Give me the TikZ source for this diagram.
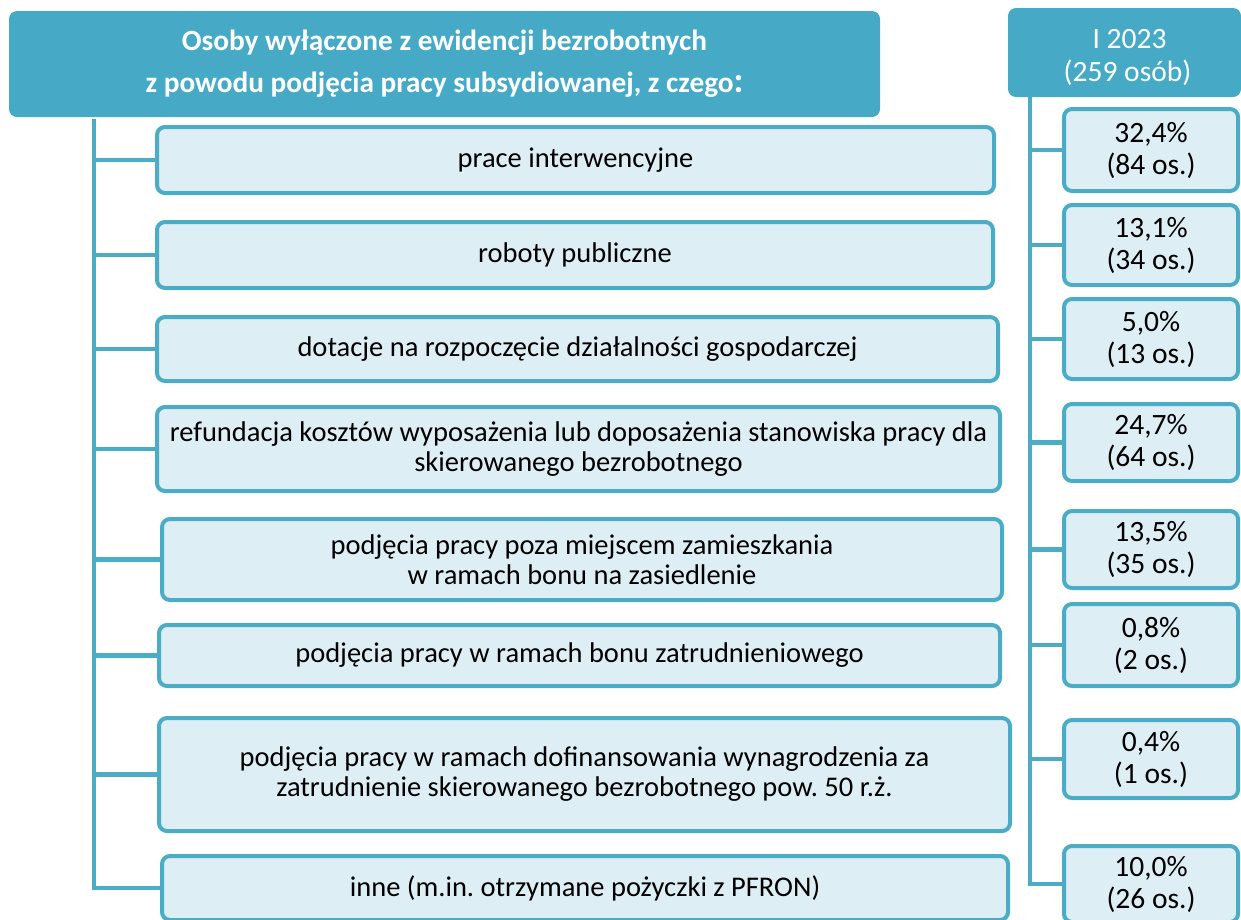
\documentclass[tikz,border=0pt]{standalone}
\usepackage{fontspec}
\setmainfont{Carlito}
\frenchspacing
\definecolor{hdr}{HTML}{46AAC7}
\definecolor{edge}{HTML}{4BACC6}
\definecolor{boxfill}{HTML}{DEEEF5}
\begin{document}
\begin{tikzpicture}[x=1pt,y=-1pt,
  hdrbox/.style={fill=hdr,draw=none,rounded corners=8pt,text=white,align=center,inner sep=0pt},
  itembox/.style={fill=boxfill,draw=edge,line width=4pt,rounded corners=8pt,align=center,inner sep=0pt,
    font=\fontsize{28.5}{30}\selectfont},
  valbox/.style={itembox,minimum width=174pt,font=\fontsize{29.5}{32}\selectfont},
  conn/.style={draw=edge,line width=4.5pt}]
\useasboundingbox (0,0) rectangle (1241,919);
% headers
\node[hdrbox,minimum width=871pt,minimum height=106pt,font=\bfseries\fontsize{29.3}{42}\selectfont] (H) at (444.5,64)
  {Osoby wyłączone z ewidencji bezrobotnych\\ z powodu podjęcia pracy subsydiowanej, z czego{\fontsize{36}{36}\selectfont:}};
\node[hdrbox,minimum width=233pt,minimum height=89pt,font=\fontsize{29.5}{33}\selectfont] (HR) at (1124.5,52.5)
  {\rule{0pt}{30pt}\hspace*{10pt}I 2023\\ \hspace*{6pt}(259 osób)};
% left boxes
\node[itembox,minimum width=837pt,minimum height=66pt] (L1) at (575.5,160) {prace interwencyjne};
\node[itembox,minimum width=836pt,minimum height=66pt] (L2) at (575,255) {roboty publiczne};
\node[itembox,minimum width=841pt,minimum height=64pt] (L3) at (577.5,349) {dotacje na rozpoczęcie działalności gospodarczej};
\node[itembox,minimum width=843pt,minimum height=84pt] (L4) at (578.5,449) {refundacja kosztów wyposażenia lub doposażenia stanowiska pracy dla\\ skierowanego bezrobotnego};
\node[itembox,minimum width=840pt,minimum height=81pt] (L5) at (582,559.5) {podjęcia pracy poza miejscem zamieszkania\\ w ramach bonu na zasiedlenie};
\node[itembox,minimum width=841pt,minimum height=61pt] (L6) at (579.5,655.5) {podjęcia pracy w ramach bonu zatrudnieniowego};
\node[itembox,minimum width=851pt,minimum height=113pt] (L7) at (584.5,774.5) {podjęcia pracy w ramach dofinansowania wynagrodzenia za\\ zatrudnienie skierowanego bezrobotnego pow. 50 r.ż.};
\node[itembox,minimum width=846pt,minimum height=64pt] (L8) at (585,888) {inne (m.in. otrzymane pożyczki z PFRON)};
% right boxes
\node[valbox,minimum height=82pt] (R1) at (1151,150) {32,4\%\\ (84 os.)};
\node[valbox,minimum height=80pt] (R2) at (1151,245) {13,1\%\\ (34 os.)};
\node[valbox,minimum height=80pt] (R3) at (1151,339) {5,0\%\\ (13 os.)};
\node[valbox,minimum height=77pt] (R4) at (1151,442.5) {24,7\%\\ (64 os.)};
\node[valbox,minimum height=77pt] (R5) at (1151,549.5) {13,5\%\\ (35 os.)};
\node[valbox,minimum height=82pt] (R6) at (1151,645) {0,8\%\\ (2 os.)};
\node[valbox,minimum height=78pt] (R7) at (1151,759) {0,4\%\\ (1 os.)};
\node[valbox,minimum height=76pt] (R8) at (1151,884) {10,0\%\\ (26 os.)};
% connectors
\coordinate (lt) at (94,119);
\coordinate (rt) at (1030,97);
\draw[conn] (lt) |- (L8.west);
\foreach \n in {L1,L2,L3,L4,L5,L6,L7} \draw[conn] (lt |- \n.west) -- (\n.west);
\draw[conn] (rt) |- (R8.west);
\foreach \n in {R1,R2,R3,R4,R5,R6,R7} \draw[conn] (rt |- \n.west) -- (\n.west);
\end{tikzpicture}
\end{document}
